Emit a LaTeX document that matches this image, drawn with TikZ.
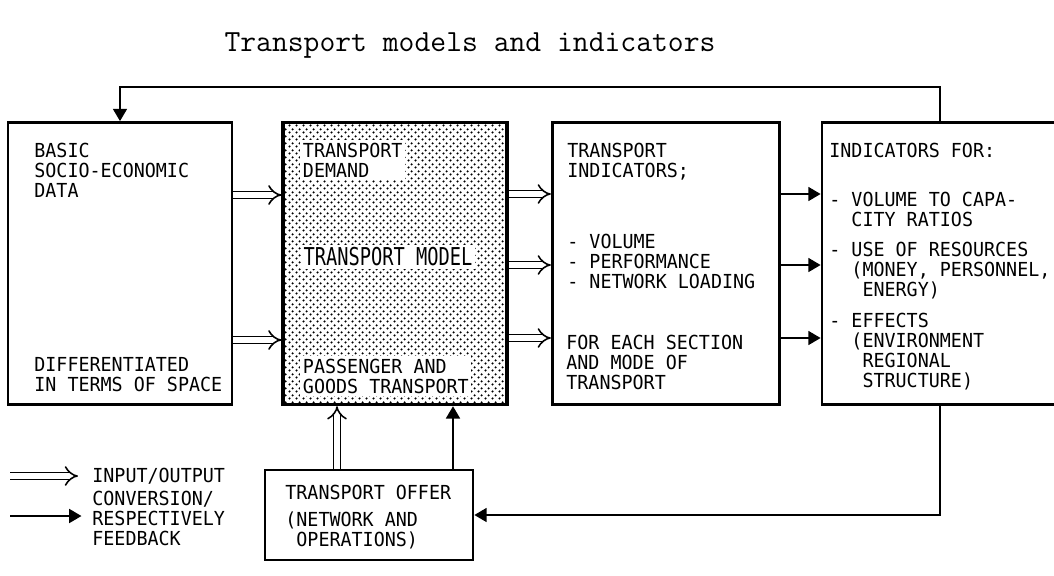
\documentclass[tikz,border=0pt]{standalone}
\usepackage{fontspec}
\usepackage{tikz}
\usetikzlibrary{positioning, arrows.meta, patterns.meta}
\newfontfamily\plotfont[FakeStretch=0.95]{DejaVu Sans Mono}
\newfontfamily\modelfont[FakeStretch=0.76]{DejaVu Sans Mono}
\tikzdeclarepattern{
    name=stipple,
    type=uncolored,
    bottom left={(0pt,0pt)},
    top right={(4pt,4pt)},
    tile size={(4pt,4pt)},
    code={
        \fill (1pt,1pt) circle (0.75pt);
        \fill (3pt,3pt) circle (0.75pt);
    }
}
\tikzset{
    block/.style = {rectangle, draw=black, line width=1.6pt, minimum width=4.48cm, minimum height=5.64cm},
    model/.style = {block, line width=2pt, pattern=stipple},
    offer/.style = {block, minimum width=4.16cm, minimum height=1.8cm},
    txt/.style = {align=left, inner sep=0pt, font=\plotfont\fontsize{11}{11.4}\selectfont},
    blank/.style = {txt, fill=white, inner sep=1.5pt},
    inout/.style = {double, double distance=3pt, line width=0.9pt, -{Implies}},
    arrow/.style = {line width=0.9pt, -{Triangle[length=7pt, width=8pt]}}
}
\begin{document}
\begin{tikzpicture}[x=0.02cm, y=-0.02cm]
\clip (0,0) rectangle (1054,575);
\node (title) [font=\ttfamily\fontsize{17.5}{20}\selectfont] at (470,46) {Transport models and indicators};

\node (data) [block] at (120,263.5) {};
\node (model) [model, right=0.96cm of data] {};
\node (ind) [block, minimum width=4.54cm, right=0.84cm of model] {};
\node (eff) [block, minimum width=5.8cm, right=0.8cm of ind] {};
\node (offer) [offer] at (369,515) {};

\node (basic) [txt, anchor=north west] at (34,143) {BASIC\\SOCIO-ECONOMIC\\DATA};
\node (space) [txt, anchor=north west] at (34,357) {DIFFERENTIATED\\IN TERMS OF SPACE};
\node (demand) [blank, anchor=north west] at (300,140) {TRANSPORT\\DEMAND};
\node (mname) [blank, font=\modelfont\fontsize{14}{16}\selectfont] at (388,257) {TRANSPORT MODEL};
\node (goods) [blank, anchor=north west] at (300,356) {PASSENGER AND\\GOODS TRANSPORT};
\node (indhead) [txt, anchor=north west] at (567,143) {TRANSPORT\\INDICATORS;};
\node (kinds) [txt, anchor=north west] at (567,234) {- VOLUME\\- PERFORMANCE\\- NETWORK LOADING};
\node (section) [txt, anchor=north west] at (566,335) {FOR EACH SECTION\\AND MODE OF\\TRANSPORT};
\node (effhead) [txt, anchor=north west] at (829,143) {INDICATORS FOR:};
\node (ratio) [txt, anchor=north west] at (829,192) {- VOLUME TO CAPA-\\\hphantom{- }CITY RATIOS};
\node (res) [txt, anchor=north west] at (829,242) {- USE OF RESOURCES\\\hphantom{- }(MONEY, PERSONNEL,\\\hphantom{- (}ENERGY)};
\node (effects) [txt, anchor=north west] at (829,313) {- EFFECTS\\\hphantom{- }(ENVIRONMENT\\\hphantom{- (}REGIONAL\\\hphantom{- (}STRUCTURE)};
\node (offertxt) [txt, anchor=north west] at (285,485) {TRANSPORT OFFER\\[4pt](NETWORK AND\\\hphantom{(}OPERATIONS)};

% legend
\coordinate (iostart) at (10,476);
\node (iotxt) [txt, anchor=west] at (92,476) {INPUT/OUTPUT};
\coordinate (convstart) at (10,516);
\node (convtxt) [txt, anchor=west] at (92,518) {CONVERSION/\\RESPECTIVELY\\FEEDBACK};

\draw [inout] (data.east |- 0,195) -- (model.west |- 0,195);
\draw [inout] (data.east |- 0,340) -- (model.west |- 0,340);
\foreach \y in {194,265,338} {
    \draw [inout] (model.east |- 0,\y) -- (ind.west |- 0,\y);
    \draw [arrow] (ind.east |- 0,\y) -- (eff.west |- 0,\y);
}
\draw [inout] (offer.north -| 337,0) -- (model.south -| 337,0);
\draw [arrow] (offer.north -| 453,0) -- (model.south -| 453,0);

% feedback
\coordinate (fb) at (940,87);
\draw [arrow] (eff.north -| fb) |- (data.north |- fb) -- (data.north);
\draw [arrow] (eff.south -| fb) |- (offer.east);

\draw [inout] (iostart) -- ([xshift=-8pt]iotxt.west);
\draw [arrow] (convstart) -- ([xshift=-6pt]convtxt.west |- convstart);
\end{tikzpicture}
\end{document}
